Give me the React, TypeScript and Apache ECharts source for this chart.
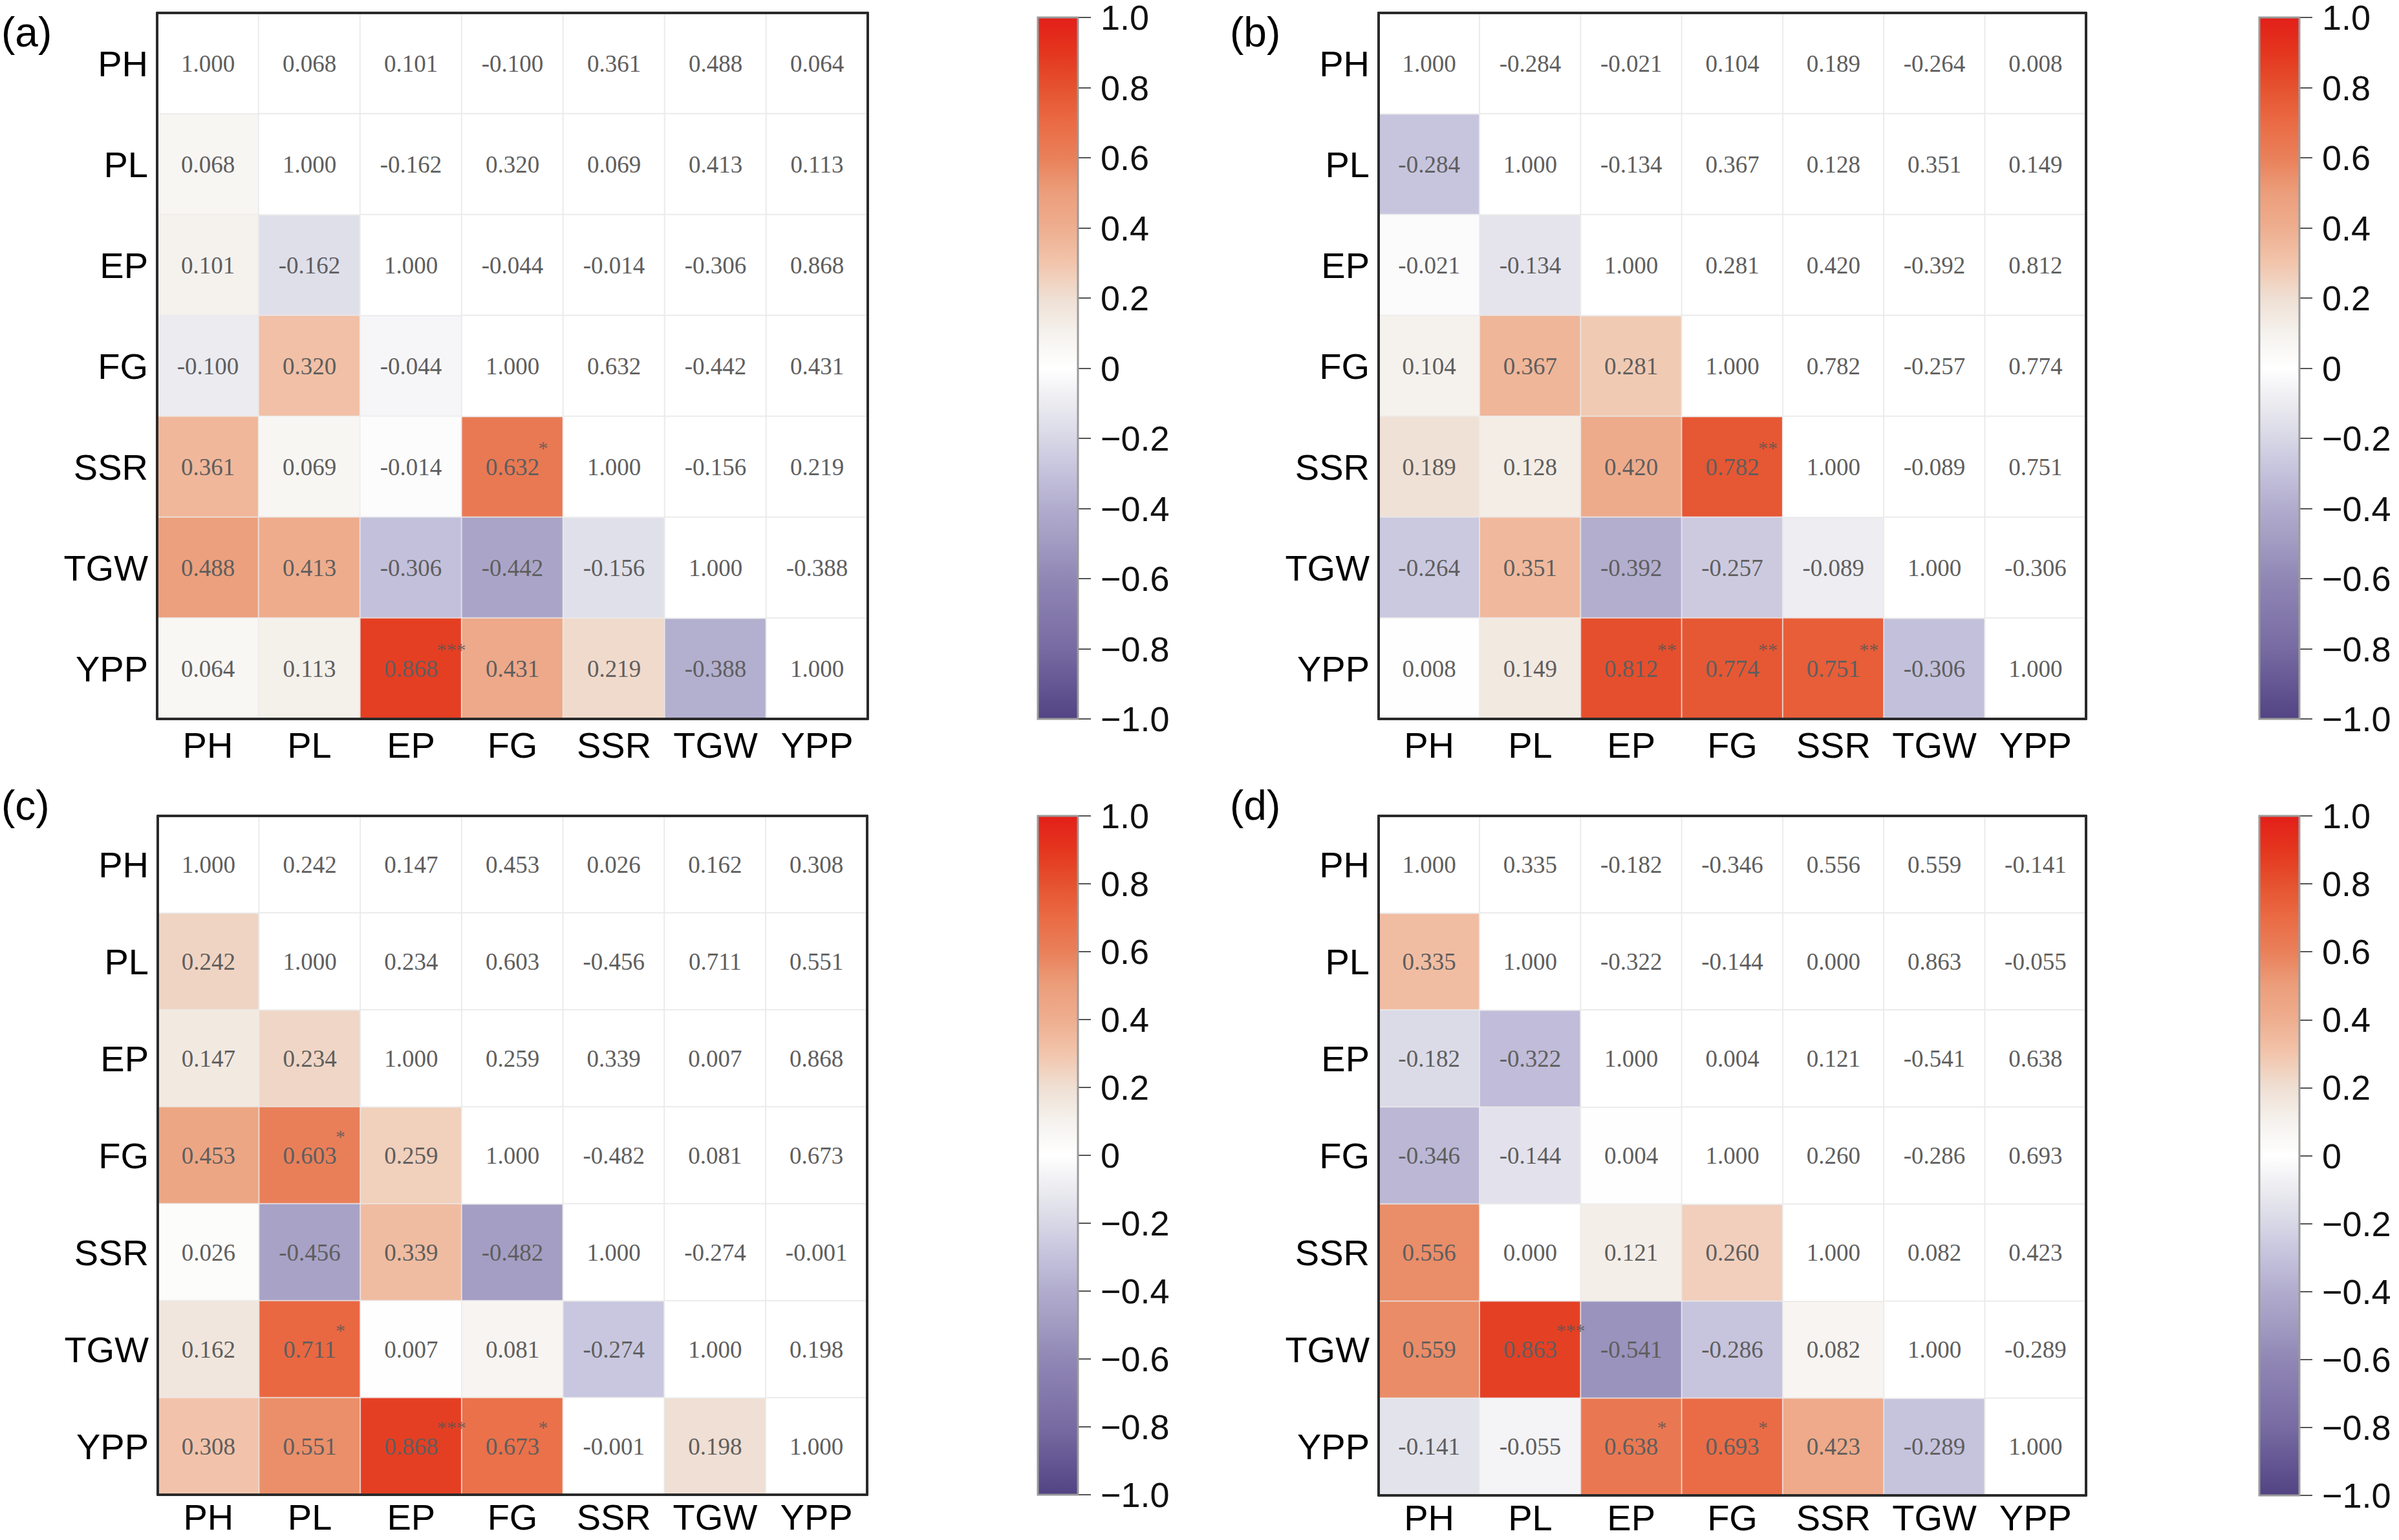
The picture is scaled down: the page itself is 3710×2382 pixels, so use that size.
import React, { useEffect, useRef } from "react";
import * as echarts from "echarts";

const CATS = ["PH", "PL", "EP", "FG", "SSR", "TGW", "YPP"];

const CORR_A = [
  [1.0, 0.068, 0.101, -0.1, 0.361, 0.488, 0.064],
  [0.068, 1.0, -0.162, 0.32, 0.069, 0.413, 0.113],
  [0.101, -0.162, 1.0, -0.044, -0.014, -0.306, 0.868],
  [-0.1, 0.32, -0.044, 1.0, 0.632, -0.442, 0.431],
  [0.361, 0.069, -0.014, 0.632, 1.0, -0.156, 0.219],
  [0.488, 0.413, -0.306, -0.442, -0.156, 1.0, -0.388],
  [0.064, 0.113, 0.868, 0.431, 0.219, -0.388, 1.0],
];
const CORR_B = [
  [1.0, -0.284, -0.021, 0.104, 0.189, -0.264, 0.008],
  [-0.284, 1.0, -0.134, 0.367, 0.128, 0.351, 0.149],
  [-0.021, -0.134, 1.0, 0.281, 0.42, -0.392, 0.812],
  [0.104, 0.367, 0.281, 1.0, 0.782, -0.257, 0.774],
  [0.189, 0.128, 0.42, 0.782, 1.0, -0.089, 0.751],
  [-0.264, 0.351, -0.392, -0.257, -0.089, 1.0, -0.306],
  [0.008, 0.149, 0.812, 0.774, 0.751, -0.306, 1.0],
];
const CORR_C = [
  [1.0, 0.242, 0.147, 0.453, 0.026, 0.162, 0.308],
  [0.242, 1.0, 0.234, 0.603, -0.456, 0.711, 0.551],
  [0.147, 0.234, 1.0, 0.259, 0.339, 0.007, 0.868],
  [0.453, 0.603, 0.259, 1.0, -0.482, 0.081, 0.673],
  [0.026, -0.456, 0.339, -0.482, 1.0, -0.274, -0.001],
  [0.162, 0.711, 0.007, 0.081, -0.274, 1.0, 0.198],
  [0.308, 0.551, 0.868, 0.673, -0.001, 0.198, 1.0],
];
const CORR_D = [
  [1.0, 0.335, -0.182, -0.346, 0.556, 0.559, -0.141],
  [0.335, 1.0, -0.322, -0.144, 0.0, 0.863, -0.055],
  [-0.182, -0.322, 1.0, 0.004, 0.121, -0.541, 0.638],
  [-0.346, -0.144, 0.004, 1.0, 0.26, -0.286, 0.693],
  [0.556, 0.0, 0.121, 0.26, 1.0, 0.082, 0.423],
  [0.559, 0.863, -0.541, -0.286, 0.082, 1.0, -0.289],
  [-0.141, -0.055, 0.638, 0.693, 0.423, -0.289, 1.0],
];

// [row, col, mark]
const STARS_A = [[4, 3, "*"], [6, 2, "***"]];
const STARS_B = [[4, 3, "**"], [6, 2, "**"], [6, 3, "**"], [6, 4, "**"]];
const STARS_C = [[3, 1, "*"], [5, 1, "*"], [6, 2, "***"], [6, 3, "*"]];
const STARS_D = [[5, 1, "***"], [6, 2, "*"], [6, 3, "*"]];

const PANEL_LABELS = ["(a)", "(b)", "(c)", "(d)"];

// colour ramp from -1 to 1 in steps of 0.1
const RAMP = [
  "#524383", "#645793", "#776ba2", "#8479ac", "#9087b5", "#a19bc2",
  "#b1accd", "#c4c1dc", "#d8d7e6", "#ebebf0", "#ffffff", "#f5f2ee",
  "#efdfd3", "#f2c5ac", "#eeae8f", "#ec9e7b", "#e9805a", "#ea6b44",
  "#e5522f", "#e4361e", "#e31f19",
];

const PANELS = [
  { corr: CORR_A, stars: STARS_A, grid: { left: 243, top: 20, width: 1099, height: 1092 }, bar: { left: 1605 }, lab: { x: 2, y: 18 }, xMargin: 12 },
  { corr: CORR_B, stars: STARS_B, grid: { left: 2132, top: 20, width: 1094, height: 1092 }, bar: { left: 3494 }, lab: { x: 1902, y: 18 }, xMargin: 12 },
  { corr: CORR_C, stars: STARS_C, grid: { left: 244, top: 1262, width: 1097, height: 1050 }, bar: { left: 1605 }, lab: { x: 2, y: 1214 }, xMargin: 6 },
  { corr: CORR_D, stars: STARS_D, grid: { left: 2132, top: 1262, width: 1094, height: 1051 }, bar: { left: 3494 }, lab: { x: 1902, y: 1214 }, xMargin: 6 },
];

function fmtTick(v: number) {
  if (Math.abs(v) < 1e-9) return "0";
  const s = Math.abs(v).toFixed(1);
  return v < 0 ? "\u2212" + s : s;
}

function buildOption() {
  const grid: any[] = [];
  const xAxis: any[] = [];
  const yAxis: any[] = [];
  const series: any[] = [];
  const lowerIdx: number[] = [];
  const upperIdx: number[] = [];
  const graphic: any[] = [];

  const border = { show: true, lineStyle: { color: "#2a2a2a", width: 4 } };
  const stops = RAMP.slice().reverse().map((col, i) => ({ offset: i / (RAMP.length - 1), color: col }));

  PANELS.forEach((p, pi) => {
    const gi = grid.length;
    grid.push({ ...p.grid, containLabel: false });
    const xi = xAxis.length;
    xAxis.push({
      type: "category", gridIndex: gi, data: CATS, position: "bottom", z: 5,
      axisLine: border, axisTick: { show: false }, splitLine: { show: false },
      axisLabel: { interval: 0, fontSize: 56, lineHeight: 56, fontFamily: "Liberation Sans", color: "#000", margin: p.xMargin },
    });
    xAxis.push({
      type: "category", gridIndex: gi, data: CATS, position: "top", z: 5,
      axisLine: border, axisTick: { show: false }, axisLabel: { show: false }, splitLine: { show: false },
    });
    const yi = yAxis.length;
    yAxis.push({
      type: "category", gridIndex: gi, data: CATS, inverse: true, position: "left", z: 5,
      axisLine: border, axisTick: { show: false }, splitLine: { show: false },
      axisLabel: { interval: 0, fontSize: 56, fontFamily: "Liberation Sans", color: "#000", margin: 14 },
    });
    yAxis.push({
      type: "category", gridIndex: gi, data: CATS, inverse: true, position: "right", z: 5,
      axisLine: border, axisTick: { show: false }, axisLabel: { show: false }, splitLine: { show: false },
    });

    const lower: any[] = [];
    const upper: any[] = [];
    p.corr.forEach((row, r) => {
      row.forEach((v, c) => {
        if (r > c) lower.push([c, r, v]);
        else upper.push([c, r, v]);
      });
    });
    const cellLabel = {
      show: true,
      formatter: (q: any) => Number(q.value[2]).toFixed(3),
      fontSize: 37,
      fontFamily: "Liberation Serif",
      color: "#5e5e5e",
    };
    lowerIdx.push(series.length);
    series.push({
      type: "heatmap", xAxisIndex: xi, yAxisIndex: yi, data: lower,
      itemStyle: { borderColor: "rgba(235,235,235,0.7)", borderWidth: 2 },
      label: cellLabel, emphasis: { disabled: true },
    });
    upperIdx.push(series.length);
    series.push({
      type: "heatmap", xAxisIndex: xi, yAxisIndex: yi, data: upper,
      itemStyle: { borderColor: "#ebebeb", borderWidth: 2 },
      label: cellLabel, emphasis: { disabled: true },
    });
    series.push({
      type: "scatter", xAxisIndex: xi, yAxisIndex: yi, symbolSize: 0, z: 6,
      data: p.stars.map((s: any) => ({ value: [s[1], s[0]], mark: s[2] })),
      label: {
        show: true, position: "inside", align: "left", verticalAlign: "middle",
        offset: [40, -30],
        formatter: (q: any) => q.data.mark,
        fontSize: 30, fontFamily: "Liberation Serif", color: "#555",
      },
      emphasis: { disabled: true },
    });

    // colour bar
    const bgi = grid.length;
    grid.push({ left: p.bar.left, top: p.grid.top, width: 62, height: p.grid.height });
    const bxi = xAxis.length;
    xAxis.push({ type: "category", gridIndex: bgi, data: ["c"], show: false });
    const byi = yAxis.length;
    yAxis.push({
      type: "value", gridIndex: bgi, min: -1, max: 1, interval: 0.2, position: "right",
      axisLine: { show: false },
      axisTick: { show: true, length: 20, lineStyle: { color: "#555", width: 2 } },
      splitLine: { show: false },
      axisLabel: { margin: 35, fontSize: 54, lineHeight: 40, fontFamily: "Liberation Sans", color: "#111", formatter: fmtTick },
    });
    series.push({
      type: "custom", xAxisIndex: bxi, yAxisIndex: byi, data: [[0, -1, 1]],
      renderItem: (params: any, api: any) => {
        const top = api.coord([0, api.value(2)]);
        const bot = api.coord([0, api.value(1)]);
        const size = api.size([1, 0]);
        return {
          type: "rect",
          shape: { x: top[0] - size[0] / 2, y: top[1], width: size[0], height: bot[1] - top[1] },
          style: {
            fill: new echarts.graphic.LinearGradient(0, 0, 0, 1, stops),
            stroke: "#9a9a9a",
            lineWidth: 3,
          },
        };
      },
    });

    graphic.push({
      type: "text", x: p.lab.x, y: p.lab.y,
      style: { text: PANEL_LABELS[pi], fontSize: 64, fontFamily: "Liberation Sans", fill: "#000" },
    });
  });

  return {
    animation: false,
    backgroundColor: "#ffffff",
    grid, xAxis, yAxis, series, graphic,
    visualMap: [
      {
        show: false, type: "continuous", min: -1, max: 1, dimension: 2,
        seriesIndex: lowerIdx, inRange: { color: RAMP },
      },
      {
        show: false, type: "continuous", min: -1, max: 1, dimension: 2,
        seriesIndex: upperIdx, inRange: { color: ["#ffffff", "#ffffff"] },
      },
    ],
  };
}

export default function App() {
  const ref = useRef<HTMLDivElement>(null);
  useEffect(() => {
    if (!ref.current) return;
    const chart = echarts.init(ref.current, undefined, { renderer: "svg" });
    chart.setOption(buildOption() as any);
    return () => chart.dispose();
  }, []);
  return (
    <div
      ref={ref}
      style={{ position: "fixed", left: 0, top: 0, width: 3710, height: 2382, background: "#fff" }}
    />
  );
}
